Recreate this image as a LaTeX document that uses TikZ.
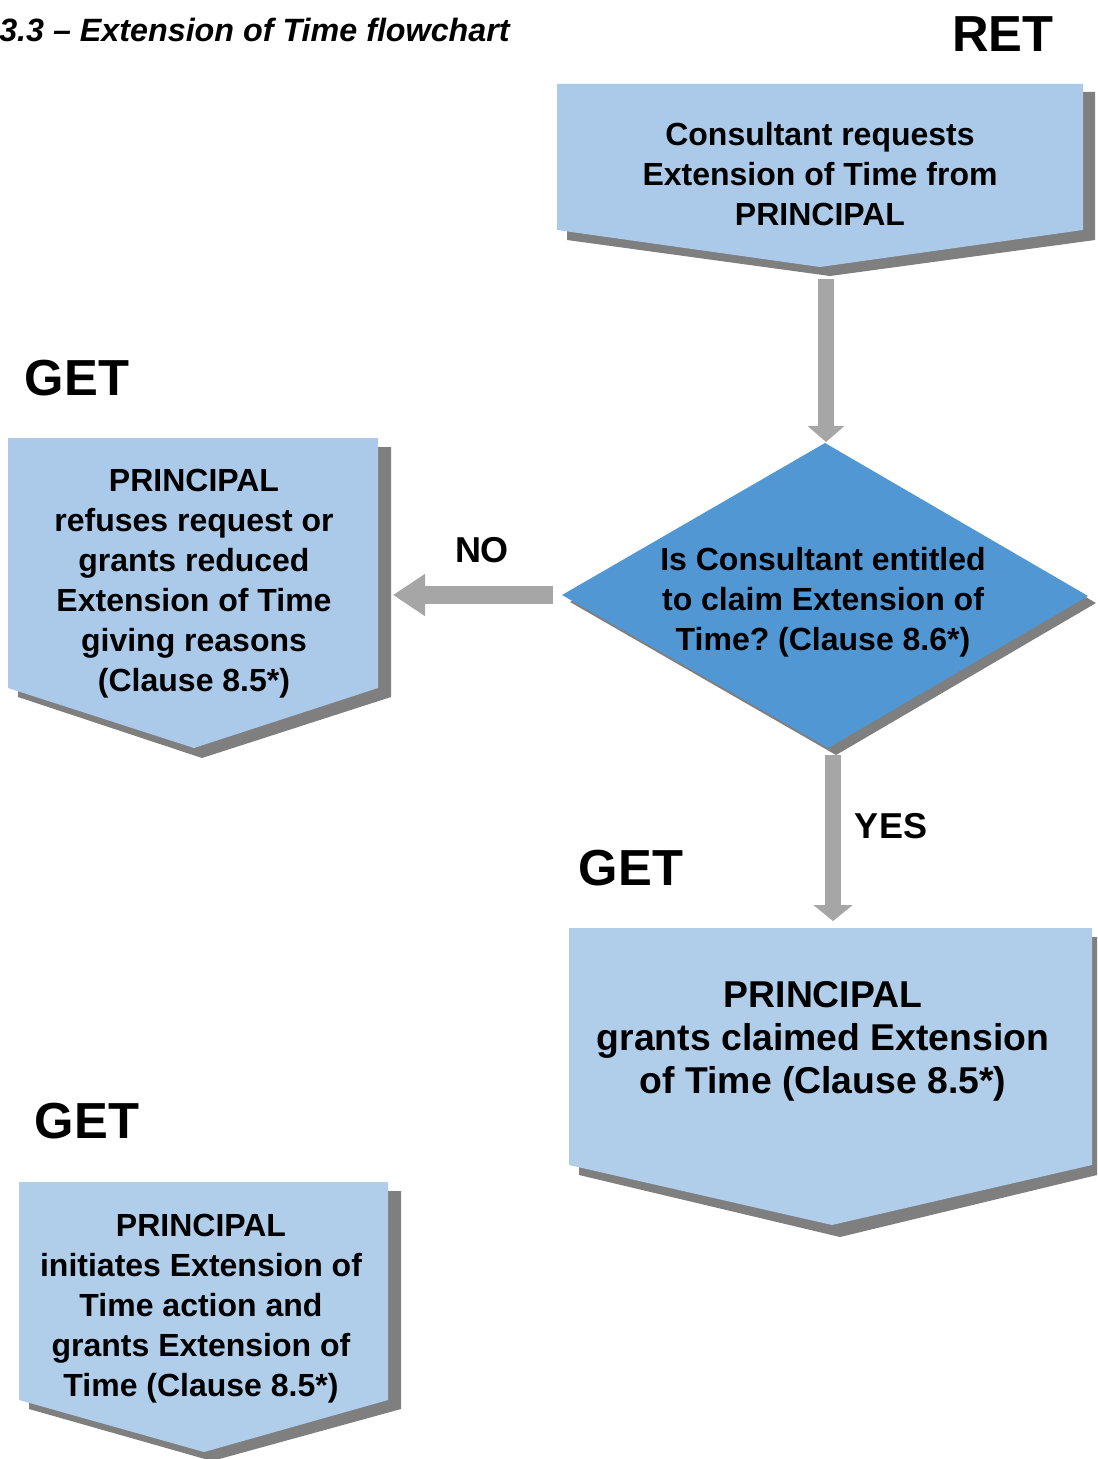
\documentclass[tikz,border=0pt]{standalone}
\usepackage{fontspec}
\setmainfont{Liberation Sans}
\usetikzlibrary{arrows.meta}
\frenchspacing
\definecolor{boxblue}{HTML}{ABCAE9}
\definecolor{boxblue2}{HTML}{B0CDEA}
\definecolor{diablue}{HTML}{5097D3}
\definecolor{shadowgray}{HTML}{7F7F7F}
\definecolor{arrowgray}{HTML}{A6A6A6}
\tikzset{
  boxfill/.style={fill=boxblue},
  shade/.style={fill=shadowgray},
  boxtext/.style={font=\fontsize{24pt}{30pt}\selectfont\bfseries\frenchspacing, align=center, inner sep=0pt},
  bigtext/.style={font=\fontsize{28pt}{32.25pt}\selectfont\bfseries\frenchspacing, align=center, inner sep=0pt},
  headtext/.style={font=\fontsize{38pt}{44pt}\selectfont\bfseries, inner sep=0pt},
  labeltext/.style={font=\fontsize{27pt}{30pt}\selectfont\bfseries, inner sep=0pt},
  flowdown/.style={draw=arrowgray, line width=12pt, -{Triangle[length=12pt,width=27pt]}},
  flowleft/.style={draw=arrowgray, line width=14pt, -{Triangle[length=24pt,width=30pt]}}
}
\begin{document}
\begin{tikzpicture}[x=0.75pt,y=-0.75pt]
\useasboundingbox (0,0) rectangle (1097,1459);

% title
\node[anchor=west, inner sep=0pt, font=\fontsize{24.2pt}{28pt}\selectfont\bfseries\itshape] (title) at (-1,30) {3.3 -- Extension of Time flowchart};
\node[headtext] (ret) at (1003,34) {RET};

% box 1
\fill[shade] (567,92) -- (1095,92) -- (1095,240) -- (830,276) -- (567,240) -- cycle;
\fill[boxfill] (557,84) -- (1083,84) -- (1083,230) -- (820,267) -- (557,230) -- cycle;
\node[boxtext] (b1) at (820,174) {Consultant requests\\Extension of Time from\\PRINCIPAL};
\coordinate (b1out) at (826,279);

% diamond
\fill[shade] (833,450) -- (1096,603) -- (836,755) -- (570,602) -- cycle;
\fill[fill=diablue] (825,443) -- (1088,596) -- (828,748) -- (562,595) -- cycle;
\node[boxtext] (dq) at (823,602) {Is Consultant entitled\\to claim Extension of\\Time? (Clause 8.6*)};
\coordinate (din) at (826,442);
\coordinate (dleft) at (553,595);
\coordinate (dbottom) at (833,755);

% box 2
\fill[shade] (18,447) -- (391,447) -- (391,697) -- (202,758) -- (18,697) -- cycle;
\fill[boxfill] (8,438) -- (378,438) -- (378,688) -- (194,748) -- (8,688) -- cycle;
\node[boxtext] (b2) at (194,584) {PRINCIPAL\\refuses request or\\grants reduced\\Extension of Time\\giving reasons\\(Clause 8.5*)};
\node[headtext] (get1) at (77,378) {GET};
\coordinate (b2in) at (393,595);

% box 3
\fill[shade] (579,937) -- (1097,937) -- (1097,1175) -- (840,1237) -- (579,1175) -- cycle;
\fill[fill=boxblue2] (569,928) -- (1092,928) -- (1092,1165) -- (832,1225) -- (569,1165) -- cycle;
\node[bigtext] (b3) at (823,1041) {PRINCIPAL\\grants claimed Extension\\of Time (Clause 8.5*)};
\node[headtext] (get2) at (631,868) {GET};
\coordinate (b3in) at (833,921);

% box 4
\fill[shade] (29,1191) -- (401,1191) -- (401,1409) -- (212,1461) -- (29,1409) -- cycle;
\fill[fill=boxblue2] (19,1182) -- (388,1182) -- (388,1400) -- (204,1452) -- (19,1400) -- cycle;
\node[boxtext] (b4) at (201,1309) {PRINCIPAL\\initiates Extension of\\Time action and\\grants Extension of\\Time (Clause 8.5*)};
\node[headtext] (get3) at (87,1121) {GET};

% connectors
\draw[flowdown] (b1out) -- (din);
\draw[flowleft] (dleft) -- (b2in);
\draw[flowdown, -{Triangle[length=12pt,width=29pt]}] (dbottom) -- (b3in);
\node[labeltext] (no) at (482,550) {NO};
\node[labeltext] (yes) at (891,826) {YES};
\end{tikzpicture}
\end{document}
